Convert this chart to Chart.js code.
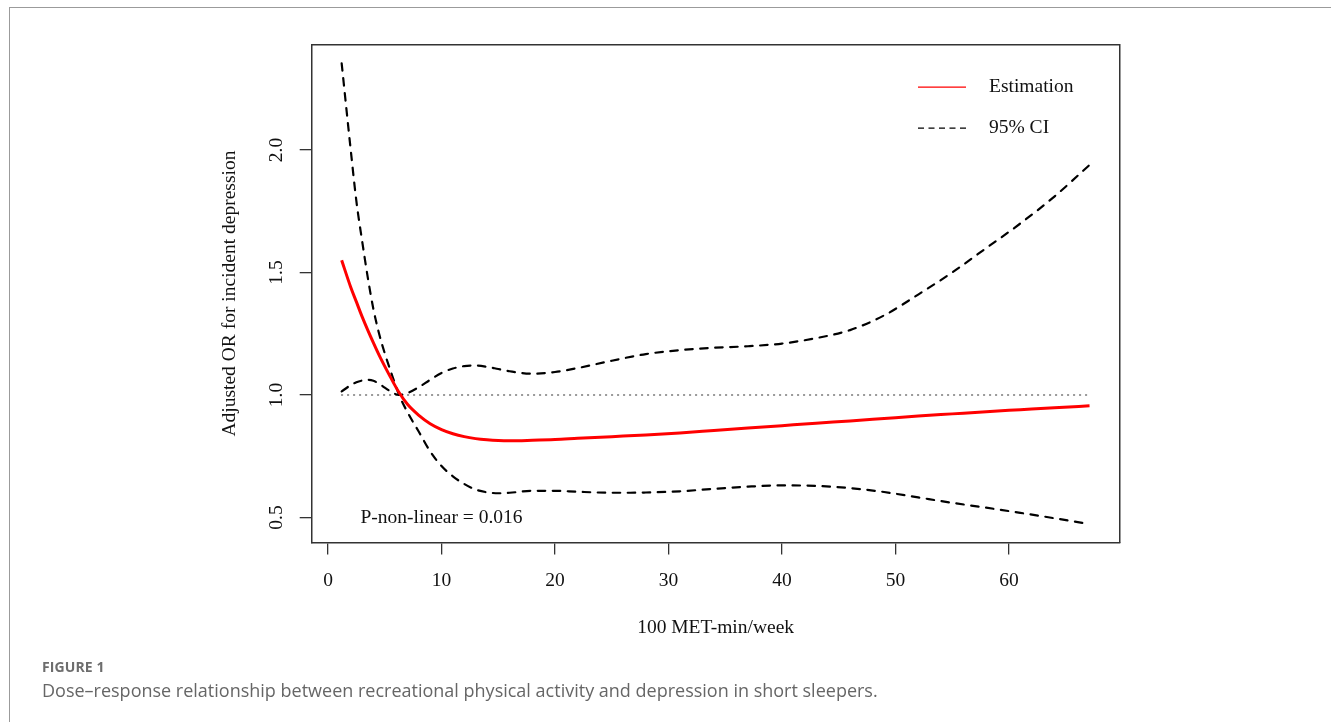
<!DOCTYPE html>
<html>
<head>
<meta charset="utf-8">
<script src="https://cdn.jsdelivr.net/npm/chart.js@4.4.0/dist/chart.umd.min.js"></script>
<style>
  html, body { margin: 0; padding: 0; background: #fff; }
  body { width: 1331px; height: 722px; position: relative; overflow: hidden; }
  #frame { position: absolute; left: 9px; top: 7px; right: 0; bottom: 0;
    border-top: 1.5px solid #9b9b9b; border-left: 1.5px solid #9b9b9b; }
  #chart { position: absolute; left: 0; top: 0; }
  .cap-label { position: absolute; left: 42px; top: 657px;
    font: bold 14px "Open Sans", sans-serif; line-height: 20px; color: #6d6d6d; letter-spacing: 0.1px; }
  .cap-text { position: absolute; left: 42px; top: 678px;
    font: 18px "Open Sans", sans-serif; line-height: 24px; color: #666; }
</style>
</head>
<body>
<div id="frame"></div>
<canvas id="chart" width="1331" height="722"></canvas>
<div class="cap-label">FIGURE 1</div>
<div class="cap-text">Dose–response relationship between recreational physical activity and depression in short sleepers.</div>
<script>
const xTickValues = [0, 10, 20, 30, 40, 50, 60];
const yTickValues = [0.5, 1.0, 1.5, 2.0];
const xRange = [-1.44, 69.74];
const yRange = [0.398, 2.43];

// 100 MET-min/week
const doseX = [1.2, 2, 2.5, 3, 3.5, 4, 4.5, 5, 5.5, 6.26, 7, 8, 9, 10, 11, 12, 13, 14, 15, 16,
  18, 20, 22, 25, 28, 31, 34, 37, 40, 43, 46, 49, 52, 55, 58, 61, 64, 67.1];
const estimation = [1.55, 1.44, 1.38, 1.32, 1.265, 1.213, 1.163, 1.117, 1.073, 1.01, 0.962, 0.917, 0.883,
  0.859, 0.842, 0.830, 0.822, 0.817, 0.814, 0.813, 0.815, 0.818, 0.823, 0.830, 0.837, 0.845, 0.855,
  0.865, 0.875, 0.885, 0.894, 0.904, 0.914, 0.923, 0.932, 0.940, 0.948, 0.956];
// the two CI curves cross at the reference point, so keep each as one smooth line
const ciLineA = [2.354, 2.0, 1.79, 1.63, 1.48, 1.35, 1.25, 1.17, 1.10, 1.0, 0.93, 0.85, 0.77, 0.71,
  0.668, 0.637, 0.614, 0.603, 0.599, 0.601, 0.609, 0.609, 0.605, 0.601, 0.602, 0.607, 0.617, 0.626,
  0.631, 0.629, 0.620, 0.604, 0.582, 0.56, 0.54, 0.519, 0.497, 0.473];
const ciLineB = [1.015, 1.04, 1.052, 1.059, 1.062, 1.058, 1.046, 1.03, 1.015, 1.0, 1.008, 1.032, 1.062,
  1.09, 1.108, 1.118, 1.12, 1.115, 1.106, 1.097, 1.087, 1.094, 1.11, 1.14, 1.167, 1.183, 1.193, 1.199,
  1.21, 1.232, 1.265, 1.325, 1.41, 1.50, 1.60, 1.70, 1.81, 1.939];
const refLineX = [1.2, 67.1];
const refLineY = [1, 1];

const legendLabels = ["Estimation", "95% CI"];
const pValueLabel = "P-non-linear = 0.016";
const pValuePos = [10, 0.5];

const serif = '"Liberation Serif", "Times New Roman", serif';
const fontSize = 19.5;
const axisColor = "#333";
const textColor = "#111";

const toPoints = (xs, ys) => xs.map((x, i) => ({x, y: ys[i]}));

const overlayText = {
  id: "overlayText",
  afterDatasetsDraw(chart) {
    const {ctx, chartArea, scales} = chart;
    ctx.save();
    ctx.font = `${fontSize}px ${serif}`;
    ctx.fillStyle = textColor;
    ctx.textBaseline = "middle";
    ctx.textAlign = "center";
    ctx.fillText(pValueLabel, scales.x.getPixelForValue(pValuePos[0]), scales.y.getPixelForValue(pValuePos[1]));

    // legend, top right like R's legend("topright", bty = "n")
    const x1 = chartArea.right - 201.5, x2 = chartArea.right - 153.5, tx = chartArea.right - 130.5;
    const rows = [chartArea.top + 42.4, chartArea.top + 83.4];
    ctx.lineWidth = 1.3;
    ctx.lineCap = "butt";
    ctx.strokeStyle = "#ff0000";
    ctx.beginPath(); ctx.moveTo(x1, rows[0]); ctx.lineTo(x2, rows[0]); ctx.stroke();
    ctx.strokeStyle = "#000";
    ctx.setLineDash([6, 4.5]);
    ctx.beginPath(); ctx.moveTo(x1, rows[1]); ctx.lineTo(x2, rows[1]); ctx.stroke();
    ctx.setLineDash([]);
    ctx.textAlign = "left";
    legendLabels.forEach((label, i) => ctx.fillText(label, tx, rows[i]));
    ctx.restore();
  }
};

const tickFont = {family: serif, size: fontSize};

new Chart(document.getElementById("chart"), {
  type: "line",
  data: {
    datasets: [
      {
        label: legendLabels[0],
        data: toPoints(doseX, estimation),
        borderColor: "#ff0000",
        borderWidth: 3,
        cubicInterpolationMode: "monotone",
      },
      {
        label: legendLabels[1],
        data: toPoints(doseX, ciLineA),
        borderColor: "#000",
        borderWidth: 2.2,
        borderDash: [7.5, 7.5],
        borderCapStyle: "round",
        cubicInterpolationMode: "monotone",
      },
      {
        label: legendLabels[1],
        data: toPoints(doseX, ciLineB),
        borderColor: "#000",
        borderWidth: 2.2,
        borderDash: [7.5, 7.5],
        borderCapStyle: "round",
        cubicInterpolationMode: "monotone",
      },
      {
        label: "reference",
        data: toPoints(refLineX, refLineY),
        borderColor: "#707070",
        borderWidth: 1.6,
        borderDash: [0.8, 5.2],
        borderCapStyle: "round",
      },
    ]
  },
  options: {
    responsive: false,
    animation: false,
    devicePixelRatio: 1,
    elements: {point: {radius: 0}},
    layout: {padding: {left: 200, right: 211.5, top: 44.65, bottom: 82.3}},
    plugins: {legend: {display: false}, tooltip: {enabled: false}},
    scales: {
      x: {
        type: "linear",
        position: "bottom",
        min: xRange[0],
        max: xRange[1],
        afterBuildTicks: scale => { scale.ticks = xTickValues.map(value => ({value})); },
        afterFit: scale => { scale.height = 97.2; },
        grid: {drawOnChartArea: false, drawTicks: true, tickLength: 12, color: axisColor, lineWidth: 1.3},
        border: {display: true, color: axisColor, width: 1.5},
        ticks: {padding: 15, color: textColor, font: tickFont, maxRotation: 0, autoSkip: false},
        title: {display: true, text: "100 MET-min/week", color: textColor, font: tickFont, padding: 0},
      },
      y: {
        type: "linear",
        position: "left",
        min: yRange[0],
        max: yRange[1],
        afterBuildTicks: scale => { scale.ticks = yTickValues.map(value => ({value})); },
        afterFit: scale => { scale.width = 111.7; },
        grid: {drawOnChartArea: false, drawTicks: true, tickLength: 12, color: axisColor, lineWidth: 1.3},
        border: {display: true, color: axisColor, width: 1.5},
        ticks: {
          padding: 10.7, crossAlign: "center", minRotation: 90, maxRotation: 90, autoSkip: false,
          color: textColor, font: tickFont, callback: v => v.toFixed(1)
        },
        title: {
          display: true, text: "Adjusted OR for incident depression", color: textColor, font: tickFont,
          padding: {top: 18, bottom: 0}
        },
      },
      x2: {
        type: "linear",
        position: "top",
        afterFit: scale => { scale.height = 0; },
        grid: {display: false},
        ticks: {display: false},
        border: {display: true, color: axisColor, width: 1.5},
      },
      y2: {
        type: "linear",
        position: "right",
        afterFit: scale => { scale.width = 0; },
        grid: {display: false},
        ticks: {display: false},
        border: {display: true, color: axisColor, width: 1.5},
      },
    }
  },
  plugins: [overlayText]
});
</script>
</body>
</html>
